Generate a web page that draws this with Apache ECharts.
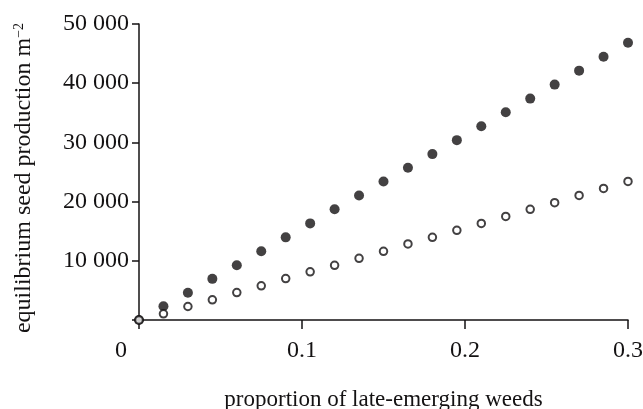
<!DOCTYPE html>
<html>
<head>
<meta charset="utf-8">
<script src="https://cdn.jsdelivr.net/npm/echarts@6/dist/echarts.min.js"></script>
<style>
  html, body { margin: 0; padding: 0; background: #fff; }
  #chart { width: 643px; height: 409px; }
</style>
</head>
<body>
<div id="chart"></div>
<script>
// proportion of late-emerging weeds (x), 0 to 0.3 in steps of 0.015
const proportions = [0, 0.015, 0.03, 0.045, 0.06, 0.075, 0.09, 0.105, 0.12, 0.135, 0.15,
  0.165, 0.18, 0.195, 0.21, 0.225, 0.24, 0.255, 0.27, 0.285, 0.3]

// filled circles
const seedFilled = [0, 2330, 4590, 6950, 9240, 11600, 13960, 16320, 18700, 21040, 23400,
  25710, 28020, 30380, 32740, 35100, 37400, 39760, 42120, 44480, 46840]

// open circles
const seedOpen = [0, 1050, 2280, 3400, 4640, 5770, 7000, 8130, 9240, 10420, 11600,
  12850, 13960, 15140, 16320, 17500, 18700, 19820, 21040, 22220, 23400]

const xTickLabels = ['0', '0.1', '0.2', '0.3']
const yTickLabels = ['', '10 000', '20 000', '30 000', '40 000', '50 000']

const ink = '#141213'
const font = 'Liberation Serif'

const chart = echarts.init(document.getElementById('chart'))

function pairs(ys) {
  return proportions.map((x, i) => [x, ys[i]])
}

chart.setOption({
  animation: false,
  textStyle: { fontFamily: font, color: ink },
  grid: { left: 139, right: 15, top: 24, bottom: 89, outerBoundsMode: 'none' },
  xAxis: {
    type: 'value',
    min: 0,
    max: 0.3,
    interval: 0.1,
    name: 'proportion of late-emerging weeds',
    nameLocation: 'middle',
    nameGap: 68,
    nameTextStyle: { fontFamily: font, fontSize: 23, color: ink },
    splitLine: { show: false },
    axisLine: { lineStyle: { color: ink, width: 1.5 } },
    axisTick: { length: 9, lineStyle: { color: ink, width: 1.5 } },
    axisLabel: {
      margin: 19,
      fontFamily: font,
      fontSize: 24,
      color: ink,
      formatter: v => {
        const s = xTickLabels[Math.round(v * 10)]
        return v === 0 ? '{z|' + s + '}' : s
      },
      rich: { z: { fontFamily: font, fontSize: 24, color: ink, padding: [0, 36, 0, 0] } }
    }
  },
  yAxis: {
    type: 'value',
    min: 0,
    max: 50000,
    interval: 10000,
    name: 'equilibrium seed production m{sup|−2}',
    nameLocation: 'middle',
    nameGap: 103,
    nameTextStyle: {
      fontFamily: font,
      fontSize: 24,
      color: ink,
      padding: [0, 12, 0, 0],
      rich: { sup: { fontFamily: font, fontSize: 14, color: ink, verticalAlign: 'top', padding: [0, 0, 10, 0] } }
    },
    splitLine: { show: false },
    axisLine: { lineStyle: { color: ink, width: 1.5 } },
    axisTick: { length: 7, lineStyle: { color: ink, width: 1.5 } },
    axisLabel: {
      margin: 10,
      fontFamily: font,
      fontSize: 24,
      color: ink,
      formatter: v => yTickLabels[Math.round(v / 10000)]
    }
  },
  series: [
    {
      type: 'scatter',
      data: pairs(seedFilled),
      symbol: 'circle',
      symbolSize: 10,
      itemStyle: { color: ink }
    },
    {
      type: 'scatter',
      data: pairs(seedOpen),
      symbol: 'circle',
      symbolSize: 7.5,
      itemStyle: { color: '#fff', borderColor: ink, borderWidth: 2 }
    }
  ]
})
</script>
</body>
</html>
